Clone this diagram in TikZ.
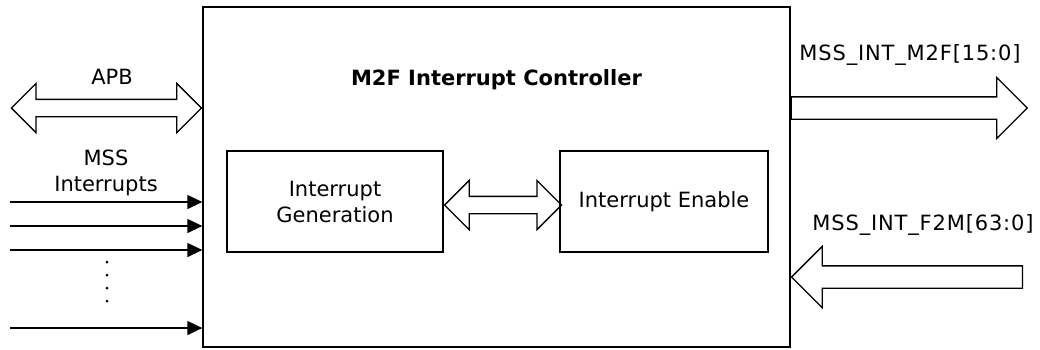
\documentclass[tikz,border=0pt]{standalone}
\usepackage{fontspec}
\setmainfont{DejaVu Sans}
\usetikzlibrary{shapes.arrows,arrows.meta,positioning}

\begin{document}
\begin{tikzpicture}[
	x=1pt, y=-1pt,
	every node/.style={font=\fontsize{21}{26}\selectfont, align=center},
	block/.style={draw, line width=1.3pt, inner sep=0pt},
	fatdouble/.style={draw, line width=1.3pt, double arrow, double arrow head extend=16pt, inner xsep=0pt, inner ysep=8pt, minimum width=0pt},
	fatsingle/.style={draw, line width=1.3pt, single arrow, single arrow head extend=19.5pt, inner xsep=0pt, inner ysep=10.5pt, minimum width=0pt},
	wire/.style={line width=1.3pt, -{Triangle[length=15pt,width=14pt]}}
	]
	\useasboundingbox (0,0) rectangle (1040,349);
	\node[block, minimum width=587pt, minimum height=340pt] (ctrl) at (496.5,177) {};
	\node[font=\fontsize{21}{26}\selectfont\bfseries] (title) at (ctrl.north |- 0,80) {M2F Interrupt Controller};
	\node[block, minimum width=216pt, minimum height=101pt] (gen) at (335,201.5) {Interrupt\\Generation};
	\node[block, minimum width=208pt, minimum height=101pt] (en) at (664,201.5) {Interrupt Enable};
	\node[fatdouble, minimum height=117pt, anchor=west] (link) at (gen.east |- 0,205) {};
	\node[fatdouble, minimum height=190pt, anchor=east] (apb) at (ctrl.west |- 0,108) {};
	\node (apblabel) at (112,77) {APB};
	\node[fatsingle, minimum height=236pt, anchor=tail] (m2f) at (ctrl.east |- 0,108) {};
	\node[font=\fontsize{21}{26}\selectfont\addfontfeature{LetterSpace=4}] (m2flabel) at (910,55) {MSS\_INT\_M2F[15:0]};
	\node[fatsingle, minimum height=231pt, shape border rotate=180, anchor=tip] (f2m) at (ctrl.east |- 0,277) {};
	\node[font=\fontsize{21}{26}\selectfont\addfontfeature{LetterSpace=4}] (f2mlabel) at (923,225) {MSS\_INT\_F2M[63:0]};
	\node (intlabel) at (106,173) {MSS\\Interrupts};
	\foreach \y [count=\i] in {202,226,250,328} {
		\coordinate (in\i) at (10,\y);
		\draw[wire] (in\i) -- (in\i -| ctrl.west);
	}
	\foreach \y in {262,275,288,301}
		\fill (107,\y) circle (1.5pt);
\end{tikzpicture}
\end{document}
